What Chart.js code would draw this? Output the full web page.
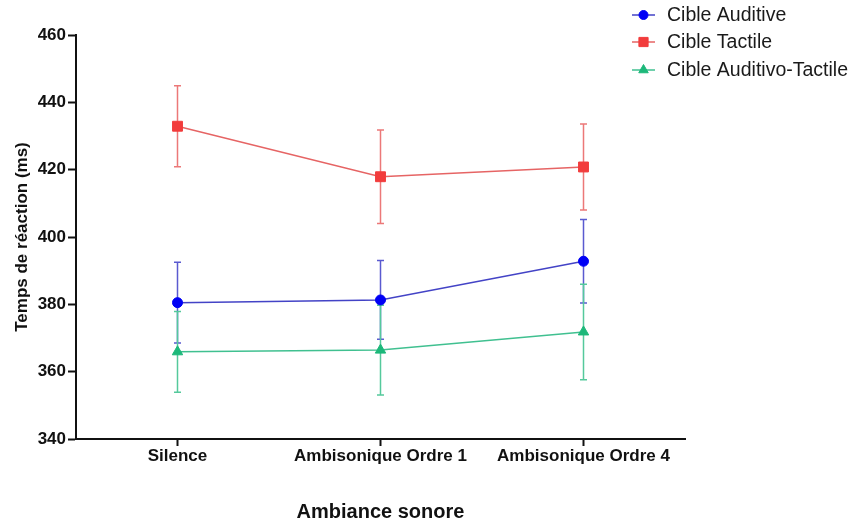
<!DOCTYPE html>
<html><head><meta charset="utf-8">
<script src="https://cdn.jsdelivr.net/npm/chart.js@4"></script>
<style>html,body{margin:0;padding:0;background:#fff}</style>
</head><body>
<canvas id="c" width="854" height="523"></canvas>
<script>
const categories = ['Silence', 'Ambisonique Ordre 1', 'Ambisonique Ordre 4'];
const seriesNames = ['Cible Auditive', 'Cible Tactile', 'Cible Auditivo-Tactile'];
const auditive = [380.5, 381.3, 392.8];
const auditiveErr = [12.0, 11.7, 12.4];
const tactile = [432.9, 417.9, 420.8];
const tactileErr = [12.0, 13.9, 12.8];
const auditivoTactile = [365.9, 366.4, 371.8];
const auditivoTactileErr = [12.0, 13.3, 14.2];
const yTicks = [340, 360, 380, 400, 420, 440, 460];

const FONT = "'Liberation Sans', Arial, sans-serif";

const styles = [
  { line: '#4343c6', marker: '#0000f5', bar: '#5a5ad0', shape: 'circle', r: 5 },
  { line: '#e66464', marker: '#f23c3c', bar: '#ec7878', shape: 'rect', r: 7 },
  { line: '#40c090', marker: '#1db87a', bar: '#55c99c', shape: 'triangle', r: 6 }
];
const errs = [auditiveErr, tactileErr, auditivoTactileErr];

const datasets = [auditive, tactile, auditivoTactile].map((vals, k) => ({
  label: seriesNames[k],
  data: vals,
  borderColor: styles[k].line,
  backgroundColor: styles[k].marker,
  pointBackgroundColor: styles[k].marker,
  pointBorderColor: styles[k].marker,
  pointBorderWidth: 1,
  pointStyle: styles[k].shape,
  pointRadius: styles[k].r,
  borderWidth: 1.5,
  tension: 0,
  errors: errs[k]
}));

const errorBars = {
  id: 'errorBars',
  beforeDatasetsDraw(chart) {
    const ctx = chart.ctx;
    const ys = chart.scales.y;
    chart.data.datasets.forEach((ds, k) => {
      const meta = chart.getDatasetMeta(k);
      ctx.save();
      ctx.strokeStyle = styles[k].bar;
      ctx.lineWidth = 1.5;
      meta.data.forEach((el, i) => {
        const v = ds.data[i], e = ds.errors[i];
        const x = el.x;
        const yt = ys.getPixelForValue(v + e), yb = ys.getPixelForValue(v - e);
        ctx.beginPath();
        ctx.moveTo(x, yt); ctx.lineTo(x, yb);
        ctx.moveTo(x - 3.5, yt); ctx.lineTo(x + 3.5, yt);
        ctx.moveTo(x - 3.5, yb); ctx.lineTo(x + 3.5, yb);
        ctx.stroke();
      });
      ctx.restore();
    });
  }
};

const legendPlugin = {
  id: 'customLegend',
  afterDraw(chart) {
    const ctx = chart.ctx;
    const rows = [15, 42, 70];
    chart.data.datasets.forEach((ds, k) => {
      const y = rows[k];
      ctx.save();
      ctx.strokeStyle = styles[k].line;
      ctx.lineWidth = 1.5;
      ctx.beginPath(); ctx.moveTo(632, y); ctx.lineTo(655, y); ctx.stroke();
      ctx.fillStyle = styles[k].marker; ctx.strokeStyle = styles[k].marker; ctx.lineWidth = 1;
      Chart.helpers.drawPoint(ctx, { pointStyle: styles[k].shape, radius: styles[k].r - 0.5, borderWidth: 1 }, 643.5, y);
      ctx.fillStyle = '#1a1a1a';
      ctx.font = '19.5px ' + FONT;
      ctx.textBaseline = 'middle';
      ctx.textAlign = 'left';
      ctx.fillText(ds.label, 667, y + 1);
      ctx.restore();
    });
  }
};

new Chart(document.getElementById('c'), {
  type: 'line',
  data: { labels: categories, datasets },
  options: {
    responsive: false,
    animation: false,
    layout: { padding: { left: 0, right: 169, top: 35, bottom: 0 } },
    plugins: { legend: { display: false }, tooltip: { enabled: false } },
    scales: {
      x: {
        type: 'category',
        offset: true,
        afterFit: s => { s.height = 84; },
        ticks: {
          color: '#111',
          font: { family: FONT, size: 17, weight: 'bold' },
          padding: 0,
          maxRotation: 0, autoSkip: false
        },
        grid: { drawOnChartArea: false, offset: false, tickLength: 7, color: '#111', tickWidth: 2 },
        border: { color: '#111', width: 2 },
        title: {
          display: true, text: 'Ambiance sonore', color: '#111',
          font: { family: FONT, size: 20, weight: 'bold', lineHeight: 1.1 },
          padding: { top: 0, bottom: 0 }
        }
      },
      y: {
        min: 340, max: 460,
        afterBuildTicks: s => { s.ticks = yTicks.map(v => ({ value: v })); },
        afterFit: s => { s.width = 76; },
        ticks: {
          color: '#111',
          font: { family: FONT, size: 17, weight: 'bold' },
          padding: 2
        },
        grid: { drawOnChartArea: false, tickLength: 8, color: '#111', tickWidth: 2 },
        border: { color: '#111', width: 2 },
        title: {
          display: true, text: 'Temps de réaction (ms)', color: '#111',
          font: { family: FONT, size: 17, weight: 'bold' },
          padding: { top: 12, bottom: 0 }
        }
      }
    }
  },
  plugins: [errorBars, legendPlugin]
});
</script>
</body></html>
